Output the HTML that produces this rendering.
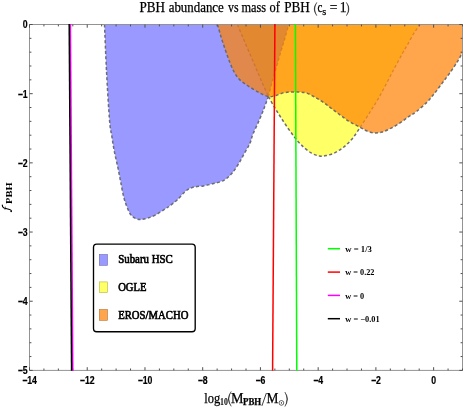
<!DOCTYPE html>
<html><head><meta charset="utf-8"><title>PBH abundance</title>
<style>
html,body{margin:0;padding:0;background:#fff;}
body{width:463px;height:409px;overflow:hidden;}
svg{display:block;will-change:transform;}
.tk text{font-family:"Liberation Sans",sans-serif;font-weight:bold;font-size:10.5px;fill:#000;stroke:#000;stroke-width:0.2px;}
.sf{font-family:"Liberation Serif",serif;fill:#000;}
</style></head><body>
<svg width="463" height="409" viewBox="0 0 463 409">
<rect width="463" height="409" fill="#fff"/>
<defs><clipPath id="c"><rect x="29.5" y="24.5" width="433.5" height="345.8"/></clipPath></defs>
<g clip-path="url(#c)">
<g fill="none" stroke="#66666c" stroke-opacity="0.95" stroke-width="1.5" stroke-dasharray="3 2.3">
<path d="M237.4 24.5C238.3 26.6 240.8 32.7 242.8 37.4C244.8 42.1 247.1 47.5 249.3 52.6C251.5 57.7 253.7 62.7 255.8 67.7C257.9 72.7 260.1 78.0 262.2 82.8C264.3 87.6 266.3 92.5 268.4 96.6C270.5 100.7 272.5 103.9 274.6 107.4C276.7 110.9 278.6 114.1 281.0 117.7C283.4 121.3 286.1 125.6 288.7 129.2C291.3 132.8 293.8 136.4 296.4 139.5C299.0 142.6 301.5 145.3 304.1 147.6C306.7 149.9 309.2 151.9 311.8 153.3C314.4 154.7 317.0 155.6 319.4 156.0C321.8 156.4 323.5 156.0 325.9 155.6C328.2 155.2 331.0 154.5 333.5 153.4C336.0 152.3 338.7 150.7 341.0 149.1C343.3 147.5 345.3 145.8 347.5 143.7C349.7 141.6 351.9 139.2 354.0 136.5C356.1 133.8 357.6 131.3 360.2 127.3C362.8 123.3 366.8 117.2 369.8 112.4C372.8 107.6 375.5 103.5 378.4 98.4C381.3 93.4 384.5 87.2 387.2 82.1C389.9 77.0 392.0 72.7 394.5 68.0C397.0 63.3 400.1 57.8 402.2 53.9C404.3 50.0 405.5 48.3 407.4 44.9C409.3 41.5 411.7 36.8 413.8 33.4C415.9 30.0 419.0 26.0 420.0 24.5Z" fill="#ffff00" fill-opacity="0.6" stroke="none"/>
<path d="M268.4 96.6C269.4 98.4 272.5 103.9 274.6 107.4C276.7 110.9 278.6 114.1 281.0 117.7C283.4 121.3 286.1 125.6 288.7 129.2C291.3 132.8 293.8 136.4 296.4 139.5C299.0 142.6 301.5 145.3 304.1 147.6C306.7 149.9 309.2 151.9 311.8 153.3C314.4 154.7 317.0 155.6 319.4 156.0C321.8 156.4 323.5 156.0 325.9 155.6C328.2 155.2 331.0 154.5 333.5 153.4C336.0 152.3 338.7 150.7 341.0 149.1C343.3 147.5 345.3 145.8 347.5 143.7C349.7 141.6 351.9 139.2 354.0 136.5C356.1 133.8 359.2 128.8 360.2 127.3"/>
<path d="M237.4 24.5C238.3 26.6 240.8 32.7 242.8 37.4C244.8 42.1 247.1 47.5 249.3 52.6C251.5 57.7 253.7 62.7 255.8 67.7C257.9 72.7 260.1 78.0 262.2 82.8C264.3 87.6 267.4 94.3 268.4 96.6" stroke-opacity="0.75" stroke-width="1.3"/>
<path d="M360.2 127.3C361.8 124.8 366.8 117.2 369.8 112.4C372.8 107.6 375.5 103.5 378.4 98.4C381.3 93.4 384.5 87.2 387.2 82.1C389.9 77.0 392.0 72.7 394.5 68.0C397.0 63.3 400.1 57.8 402.2 53.9C404.3 50.0 405.5 48.3 407.4 44.9C409.3 41.5 411.7 36.8 413.8 33.4C415.9 30.0 419.0 26.0 420.0 24.5" stroke-opacity="0.75" stroke-width="1.3"/>
<path d="M104.5 24.5C104.8 32.2 105.7 54.9 106.5 71.0C107.3 87.1 108.7 110.3 109.6 121.0C110.5 131.7 110.9 130.4 111.7 135.4C112.5 140.4 113.2 145.7 114.2 150.8C115.2 155.9 116.5 161.1 117.6 166.2C118.7 171.3 119.6 176.4 120.6 181.5C121.6 186.6 122.6 192.6 123.7 196.9C124.8 201.2 125.9 204.2 127.1 207.2C128.3 210.2 129.4 213.0 130.9 214.9C132.4 216.8 134.3 217.9 136.0 218.7C137.7 219.5 139.3 219.6 141.2 219.5C143.1 219.4 145.0 219.0 147.6 218.2C150.2 217.3 153.5 216.0 156.5 214.4C159.5 212.8 163.2 210.2 165.5 208.8C167.8 207.4 168.0 207.2 170.0 205.7C172.0 204.1 175.1 201.9 177.7 199.5C180.3 197.1 182.8 193.4 185.4 191.3C188.0 189.2 190.1 188.1 193.1 187.2C196.1 186.3 199.9 186.5 203.3 185.9C206.7 185.3 210.2 184.5 213.6 183.6C217.0 182.7 220.8 181.9 223.8 180.3C226.8 178.7 229.2 176.4 231.5 173.8C233.8 171.2 235.8 168.3 237.9 164.9C240.1 161.5 242.4 156.9 244.4 153.3C246.4 149.7 248.6 146.2 250.0 143.1C251.4 139.9 251.3 138.2 252.8 134.4C254.3 130.6 257.3 124.8 259.2 120.3C261.1 115.8 262.9 111.4 264.4 107.4C265.9 103.5 267.1 100.7 268.4 96.6C269.7 92.5 270.7 87.6 272.0 82.8C273.3 78.0 274.9 72.7 276.3 67.7C277.7 62.7 279.2 57.5 280.6 52.6C282.0 47.7 283.5 43.2 284.9 38.5C286.3 33.8 288.1 26.8 288.8 24.5Z" fill="#0000ff" fill-opacity="0.4" stroke="none"/>
<path d="M104.5 24.5C104.8 32.2 105.7 54.9 106.5 71.0C107.3 87.1 108.7 110.3 109.6 121.0C110.5 131.7 110.9 130.4 111.7 135.4C112.5 140.4 113.2 145.7 114.2 150.8C115.2 155.9 116.5 161.1 117.6 166.2C118.7 171.3 119.6 176.4 120.6 181.5C121.6 186.6 122.6 192.6 123.7 196.9C124.8 201.2 125.9 204.2 127.1 207.2C128.3 210.2 129.4 213.0 130.9 214.9C132.4 216.8 134.3 217.9 136.0 218.7C137.7 219.5 139.3 219.6 141.2 219.5C143.1 219.4 145.0 219.0 147.6 218.2C150.2 217.3 153.5 216.0 156.5 214.4C159.5 212.8 163.2 210.2 165.5 208.8C167.8 207.4 168.0 207.2 170.0 205.7C172.0 204.1 175.1 201.9 177.7 199.5C180.3 197.1 182.8 193.4 185.4 191.3C188.0 189.2 190.1 188.1 193.1 187.2C196.1 186.3 199.9 186.5 203.3 185.9C206.7 185.3 210.2 184.5 213.6 183.6C217.0 182.7 220.8 181.9 223.8 180.3C226.8 178.7 229.2 176.4 231.5 173.8C233.8 171.2 235.8 168.3 237.9 164.9C240.1 161.5 242.4 156.9 244.4 153.3C246.4 149.7 248.6 146.2 250.0 143.1C251.4 139.9 251.3 138.2 252.8 134.4C254.3 130.6 257.3 124.8 259.2 120.3C261.1 115.8 262.9 111.4 264.4 107.4C265.9 103.5 267.7 98.4 268.4 96.6"/>
<path d="M268.4 96.6C269.0 94.3 270.7 87.6 272.0 82.8C273.3 78.0 274.9 72.7 276.3 67.7C277.7 62.7 279.2 57.5 280.6 52.6C282.0 47.7 283.5 43.2 284.9 38.5C286.3 33.8 288.1 26.8 288.8 24.5" stroke-opacity="0.75" stroke-width="1.3"/>
<path d="M217.5 24.5C218.1 26.6 219.9 33.1 221.2 37.4C222.5 41.7 224.1 46.2 225.5 50.4C226.9 54.5 228.4 58.7 229.8 62.3C231.2 65.9 232.6 69.1 234.2 72.0C235.8 74.9 237.3 77.3 239.6 79.6C241.9 81.9 245.0 83.8 248.2 86.0C251.4 88.2 255.6 90.7 259.0 92.5C262.4 94.3 265.6 96.1 268.4 96.6C271.2 97.1 273.4 96.0 275.9 95.4C278.4 94.8 281.0 93.4 283.6 92.8C286.2 92.2 288.7 92.1 291.3 92.0C293.9 91.9 296.5 91.8 299.0 92.0C301.5 92.2 303.8 92.1 306.5 93.0C309.2 93.9 312.2 95.7 315.1 97.3C318.0 98.9 320.9 100.7 323.8 102.7C326.7 104.7 329.5 107.1 332.4 109.2C335.3 111.3 338.1 113.5 341.0 115.6C343.9 117.7 346.5 119.8 349.7 121.7C352.9 123.7 357.3 125.8 360.2 127.3C363.1 128.8 364.6 130.1 367.0 131.0C369.4 131.9 372.0 132.7 374.5 132.9C377.0 133.1 379.4 132.8 382.1 132.0C384.8 131.2 387.8 129.9 390.7 128.4C393.6 126.9 396.7 125.2 399.7 123.2C402.7 121.2 405.8 118.6 408.6 116.7C411.4 114.8 413.3 113.9 416.3 111.6C419.3 109.2 423.6 105.6 426.6 102.6C429.6 99.6 431.7 96.8 434.3 93.6C436.9 90.4 439.4 86.8 442.0 83.4C444.6 80.0 447.1 76.7 449.7 73.1C452.3 69.5 455.2 65.2 457.4 61.6C459.6 58.0 462.1 53.2 463.0 51.5L463 24.5Z" fill="#ff8000" fill-opacity="0.7" stroke="none"/>
<path d="M217.5 24.5C218.1 26.6 219.9 33.1 221.2 37.4C222.5 41.7 224.1 46.2 225.5 50.4C226.9 54.5 228.4 58.7 229.8 62.3C231.2 65.9 232.6 69.1 234.2 72.0C235.8 74.9 237.3 77.3 239.6 79.6C241.9 81.9 245.0 83.8 248.2 86.0C251.4 88.2 255.6 90.7 259.0 92.5C262.4 94.3 265.6 96.1 268.4 96.6C271.2 97.1 273.4 96.0 275.9 95.4C278.4 94.8 281.0 93.4 283.6 92.8C286.2 92.2 288.7 92.1 291.3 92.0C293.9 91.9 296.5 91.8 299.0 92.0C301.5 92.2 303.8 92.1 306.5 93.0C309.2 93.9 312.2 95.7 315.1 97.3C318.0 98.9 320.9 100.7 323.8 102.7C326.7 104.7 329.5 107.1 332.4 109.2C335.3 111.3 338.1 113.5 341.0 115.6C343.9 117.7 346.5 119.8 349.7 121.7C352.9 123.7 357.3 125.8 360.2 127.3C363.1 128.8 364.6 130.1 367.0 131.0C369.4 131.9 372.0 132.7 374.5 132.9C377.0 133.1 379.4 132.8 382.1 132.0C384.8 131.2 387.8 129.9 390.7 128.4C393.6 126.9 396.7 125.2 399.7 123.2C402.7 121.2 405.8 118.6 408.6 116.7C411.4 114.8 413.3 113.9 416.3 111.6C419.3 109.2 423.6 105.6 426.6 102.6C429.6 99.6 431.7 96.8 434.3 93.6C436.9 90.4 439.4 86.8 442.0 83.4C444.6 80.0 447.1 76.7 449.7 73.1C452.3 69.5 455.2 65.2 457.4 61.6C459.6 58.0 462.1 53.2 463.0 51.5"/>
</g>
</g>
<g fill="none" stroke-width="1">
<path d="M29.5 24.5H462.5V370.4H29.5Z" stroke="#939393"/>
<path d="M29.50 370.4v-3.2M29.50 24.5v3.2M43.93 370.4v-1.9M43.93 24.5v1.9M58.37 370.4v-1.9M58.37 24.5v1.9M72.80 370.4v-1.9M72.80 24.5v1.9M87.23 370.4v-3.2M87.23 24.5v3.2M101.67 370.4v-1.9M101.67 24.5v1.9M116.10 370.4v-1.9M116.10 24.5v1.9M130.53 370.4v-1.9M130.53 24.5v1.9M144.97 370.4v-3.2M144.97 24.5v3.2M159.40 370.4v-1.9M159.40 24.5v1.9M173.83 370.4v-1.9M173.83 24.5v1.9M188.27 370.4v-1.9M188.27 24.5v1.9M202.70 370.4v-3.2M202.70 24.5v3.2M217.13 370.4v-1.9M217.13 24.5v1.9M231.57 370.4v-1.9M231.57 24.5v1.9M246.00 370.4v-1.9M246.00 24.5v1.9M260.43 370.4v-3.2M260.43 24.5v3.2M274.87 370.4v-1.9M274.87 24.5v1.9M289.30 370.4v-1.9M289.30 24.5v1.9M303.73 370.4v-1.9M303.73 24.5v1.9M318.17 370.4v-3.2M318.17 24.5v3.2M332.60 370.4v-1.9M332.60 24.5v1.9M347.03 370.4v-1.9M347.03 24.5v1.9M361.47 370.4v-1.9M361.47 24.5v1.9M375.90 370.4v-3.2M375.90 24.5v3.2M390.33 370.4v-1.9M390.33 24.5v1.9M404.77 370.4v-1.9M404.77 24.5v1.9M419.20 370.4v-1.9M419.20 24.5v1.9M433.63 370.4v-3.2M433.63 24.5v3.2M448.07 370.4v-1.9M448.07 24.5v1.9M462.50 370.4v-1.9M462.50 24.5v1.9M29.5 24.50h3.2M462.5 24.50h-3.2M29.5 38.34h1.9M462.5 38.34h-1.9M29.5 52.17h1.9M462.5 52.17h-1.9M29.5 66.01h1.9M462.5 66.01h-1.9M29.5 79.84h1.9M462.5 79.84h-1.9M29.5 93.68h3.2M462.5 93.68h-3.2M29.5 107.52h1.9M462.5 107.52h-1.9M29.5 121.35h1.9M462.5 121.35h-1.9M29.5 135.19h1.9M462.5 135.19h-1.9M29.5 149.02h1.9M462.5 149.02h-1.9M29.5 162.86h3.2M462.5 162.86h-3.2M29.5 176.70h1.9M462.5 176.70h-1.9M29.5 190.53h1.9M462.5 190.53h-1.9M29.5 204.37h1.9M462.5 204.37h-1.9M29.5 218.20h1.9M462.5 218.20h-1.9M29.5 232.04h3.2M462.5 232.04h-3.2M29.5 245.88h1.9M462.5 245.88h-1.9M29.5 259.71h1.9M462.5 259.71h-1.9M29.5 273.55h1.9M462.5 273.55h-1.9M29.5 287.38h1.9M462.5 287.38h-1.9M29.5 301.22h3.2M462.5 301.22h-3.2M29.5 315.06h1.9M462.5 315.06h-1.9M29.5 328.89h1.9M462.5 328.89h-1.9M29.5 342.73h1.9M462.5 342.73h-1.9M29.5 356.56h1.9M462.5 356.56h-1.9M29.5 370.40h3.2M462.5 370.40h-3.2" stroke="#505050"/>
</g>
<g fill="none" stroke-width="1.5">
<path d="M295.4 24L296.8 370.8" stroke="#00ff00"/>
<path d="M274.9 24L272.6 370.8" stroke="#ff0000"/>
<path d="M70.4 24L72.8 370.8" stroke="#ff00ff"/>
<path d="M69.2 24L71.6 370.8" stroke="#000"/>
</g>
<g class="tk"><text transform="translate(29.5 383.8) scale(0.83 1)" text-anchor="middle">−14</text><text transform="translate(87.2 383.8) scale(0.83 1)" text-anchor="middle">−12</text><text transform="translate(145.0 383.8) scale(0.83 1)" text-anchor="middle">−10</text><text transform="translate(202.7 383.8) scale(0.83 1)" text-anchor="middle">−8</text><text transform="translate(260.4 383.8) scale(0.83 1)" text-anchor="middle">−6</text><text transform="translate(318.2 383.8) scale(0.83 1)" text-anchor="middle">−4</text><text transform="translate(375.9 383.8) scale(0.83 1)" text-anchor="middle">−2</text><text transform="translate(433.6 383.8) scale(0.83 1)" text-anchor="middle">0</text><text transform="translate(27.6 28.4) scale(0.83 1)" text-anchor="end">0</text><text transform="translate(27.6 97.6) scale(0.83 1)" text-anchor="end">−1</text><text transform="translate(27.6 166.8) scale(0.83 1)" text-anchor="end">−2</text><text transform="translate(27.6 235.9) scale(0.83 1)" text-anchor="end">−3</text><text transform="translate(27.6 305.1) scale(0.83 1)" text-anchor="end">−4</text><text transform="translate(27.6 374.3) scale(0.83 1)" text-anchor="end">−5</text></g>
<g class="sf" stroke="#000" stroke-width="0.25"><text x="139.5" y="12.4" font-size="13.6" textLength="25.5" lengthAdjust="spacingAndGlyphs">PBH</text><text x="168.7" y="12.4" font-size="13.6" textLength="55.1" lengthAdjust="spacingAndGlyphs">abundance</text><text x="228.0" y="12.4" font-size="13.6" textLength="10.5" lengthAdjust="spacingAndGlyphs">vs</text><text x="241.5" y="12.4" font-size="13.6" textLength="24.6" lengthAdjust="spacingAndGlyphs">mass</text><text x="269.5" y="12.4" font-size="13.6" textLength="10.3" lengthAdjust="spacingAndGlyphs">of</text><text x="284.2" y="12.4" font-size="13.6" textLength="25.6" lengthAdjust="spacingAndGlyphs">PBH</text><path d="M316.8 2.4Q311.6 9.0 316.8 15.7Q312.8 9.0 316.8 2.4Z" fill="#000" stroke="#000" stroke-width="0.35" stroke-linejoin="round"/><text x="317.4" y="12.4" font-size="13.6" textLength="4.9" lengthAdjust="spacingAndGlyphs">c</text><text x="324.2" y="14.8" font-size="10.2" text-anchor="middle">s</text><text x="333.7" y="12.4" font-size="13.6" text-anchor="middle">=</text><text x="343.1" y="12.4" font-size="13.6" text-anchor="middle">1</text><path d="M346.4 2.4Q351.6 9.0 346.4 15.7Q350.4 9.0 346.4 2.4Z" fill="#000" stroke="#000" stroke-width="0.35" stroke-linejoin="round"/></g>
<g class="sf" stroke="#000" stroke-width="0.25"><text x="204.2" y="402.8" font-size="14.6" textLength="16.0" lengthAdjust="spacingAndGlyphs">log</text><text x="220.1" y="404.9" font-size="9.5" textLength="7.8" lengthAdjust="spacingAndGlyphs" font-weight="bold" stroke="none">10</text><path d="M231.2 391.5Q225.4 398.9 231.2 406.3Q226.6 398.9 231.2 391.5Z" fill="#000" stroke="#000" stroke-width="0.35" stroke-linejoin="round"/><text x="230.9" y="402.8" font-size="14.6" textLength="12.5" lengthAdjust="spacingAndGlyphs">M</text><text x="243.0" y="404.8" font-size="9.3" textLength="18.3" lengthAdjust="spacingAndGlyphs" font-weight="bold">PBH</text><path d="M261.9 405.9L266.4 393" stroke="#000" stroke-width="0.75" fill="none"/><text x="266.4" y="402.8" font-size="14.6" textLength="11.9" lengthAdjust="spacingAndGlyphs">M</text><path d="M284.9 392.1Q290.1 399.3 284.9 406.5Q288.9 399.3 284.9 392.1Z" fill="#000" stroke="#000" stroke-width="0.35" stroke-linejoin="round"/><circle cx="281.4" cy="402.9" r="2.35" fill="none" stroke="#000" stroke-width="0.6"/><circle cx="281.4" cy="402.9" r="0.6" fill="#000" stroke="none"/></g>
<path d="M2.3 205.0C2.2 206.6 2.6 207.5 4.0 208.0L9.6 209.5C11.0 209.9 11.6 210.6 11.3 211.3" fill="none" stroke="#000" stroke-width="1.15" stroke-linecap="round"/>
<circle cx="11.1" cy="211.4" r="0.75" fill="#000"/>
<path d="M5.3 206.6L5.0 209.8" fill="none" stroke="#000" stroke-width="0.6"/>
<g transform="translate(9.9 212.5) rotate(-90)">
<text class="sf" x="8.5" y="1.7" font-size="8.2" font-weight="bold" textLength="21.6" lengthAdjust="spacingAndGlyphs">PBH</text>
</g>
<rect x="93.5" y="244.1" width="101.7" height="87.6" rx="3.2" ry="3.2" fill="#fff" stroke="#000" stroke-width="1.35"/>
<rect x="99.3" y="254.5" width="8.2" height="10.8" fill="#9999ff" stroke="#6b6bb3" stroke-width="0.6"/>
<rect x="99.3" y="281.9" width="8.2" height="10.8" fill="#ffff66" stroke="#b3b347" stroke-width="0.6"/>
<rect x="99.3" y="309.5" width="8.2" height="10.8" fill="#ffa64d" stroke="#b37436" stroke-width="0.6"/>
<g class="sf" font-size="11.8" stroke="#000" stroke-width="0.65">
<text x="118.2" y="263.4" textLength="54.6" lengthAdjust="spacingAndGlyphs">Subaru HSC</text>
<text x="118.2" y="290.9" textLength="28.2" lengthAdjust="spacingAndGlyphs">OGLE</text>
<text x="118.2" y="318.6" textLength="70.2" lengthAdjust="spacingAndGlyphs">EROS/MACHO</text>
</g>
<g fill="none" stroke-width="1.5">
<path d="M327.8 248.7h12.2" stroke="#00ff00"/>
<path d="M327.8 272.1h12.2" stroke="#ff0000"/>
<path d="M327.8 295.4h12.2" stroke="#ff00ff"/>
<path d="M327.8 318.7h12.2" stroke="#000"/>
</g>
<g class="sf" font-size="8.9" font-weight="bold">
<text x="345.3" y="251.8" textLength="26.6" lengthAdjust="spacingAndGlyphs">w = 1/3</text>
<text x="345.3" y="275.2" textLength="29.2" lengthAdjust="spacingAndGlyphs">w = 0.22</text>
<text x="345.3" y="298.5" textLength="18.9" lengthAdjust="spacingAndGlyphs">w = 0</text>
<text x="345.3" y="321.8" textLength="34.3" lengthAdjust="spacingAndGlyphs">w = −0.01</text>
</g>
</svg>
</body></html>
